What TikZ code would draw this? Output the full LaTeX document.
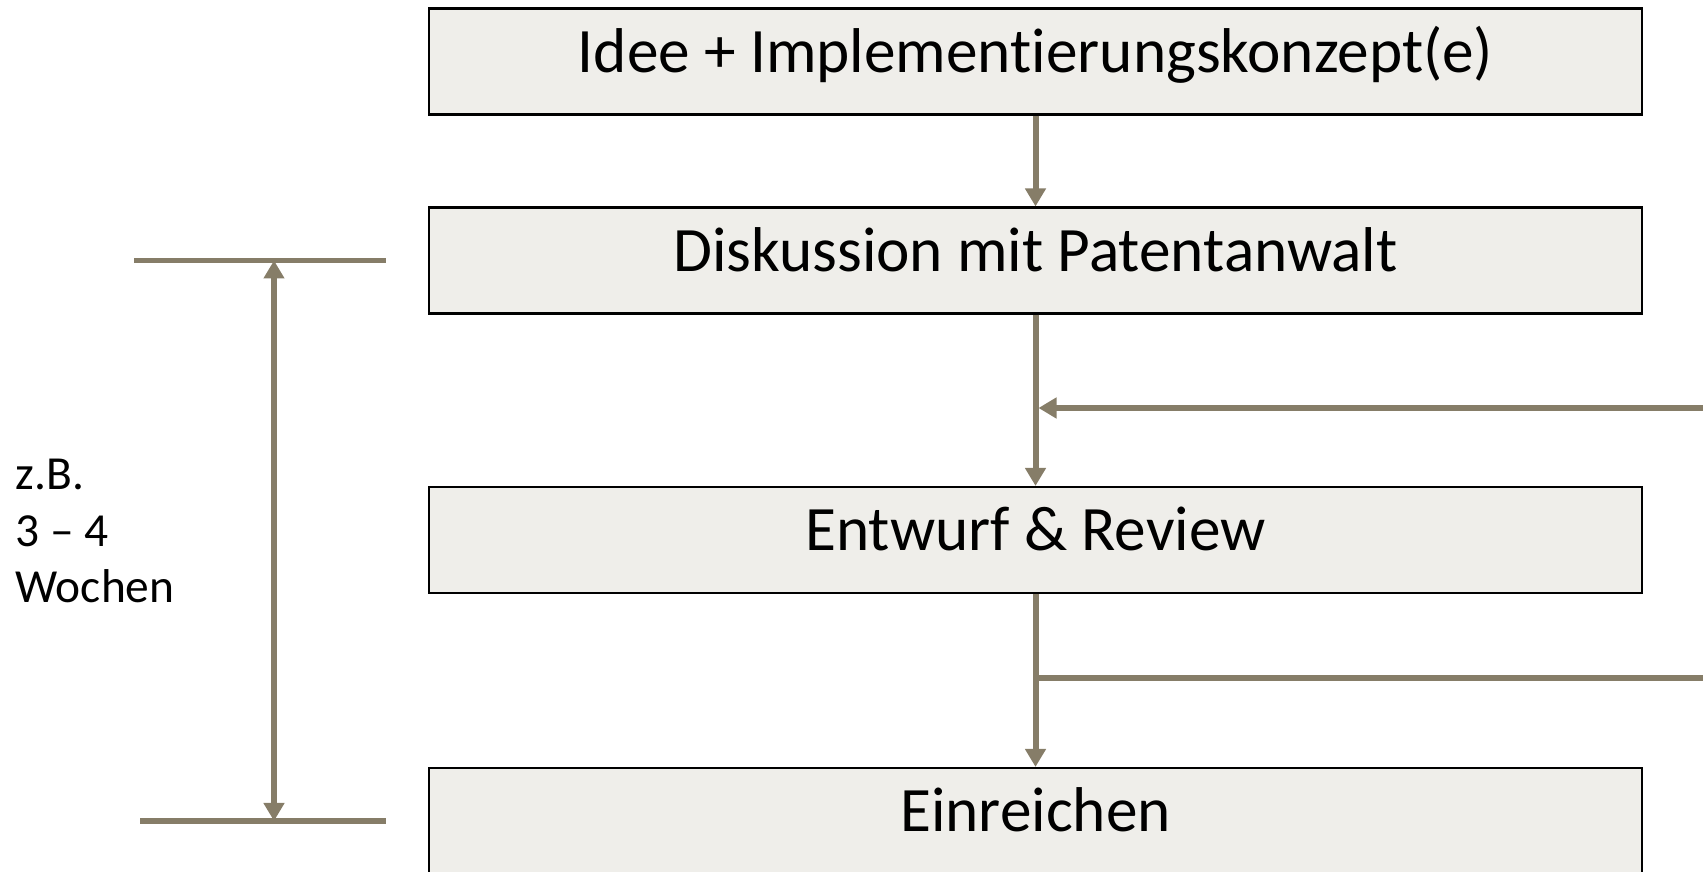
\documentclass[tikz,border=0pt]{standalone}
\usepackage{fontspec}
\setmainfont{Carlito}[Ligatures={NoCommon}]
\usepackage{tikz}
\usetikzlibrary{arrows.meta}
\definecolor{linec}{RGB}{134,125,104}
\definecolor{boxfill}{RGB}{239,238,234}

\begin{document}
\begin{tikzpicture}
[stage/.style={draw=black,line width=0.6pt,fill=boxfill,minimum width=12.13cm,minimum height=1.06cm,inner sep=0pt,text height=0.41cm,text depth=0.19cm,font=\fontsize{18}{21}\selectfont},
flow/.style={draw=linec,line width=1.7pt,-{Triangle[length=0.18cm,width=0.2cm]}},
bar/.style={draw=linec,line width=1.7pt}]
\clip (0,0) rectangle (17.03,8.72);

\node[stage] (idee) at (10.355,8.105) {Idee + Implementierungskonzept(e)};
\node[stage] (disk) at (10.355,6.115) {Diskussion mit Patentanwalt};
\node[stage] (entw) at (10.355,3.32) {Entwurf \& Review};
\node[stage] (einr) at (10.355,0.51) {Einreichen};

\node[anchor=west,align=left,inner sep=0pt,font=\fontsize{13.5}{16}\selectfont] (dauer) at (0.15,3.41) {z.B.\\3 – 4\\Wochen};

\coordinate (fbin) at (10.385,4.64);
\coordinate (fbout) at (17.1,4.64);
\coordinate (rein) at (10.355,1.94);
\coordinate (raus) at (17.1,1.94);

\coordinate (t1) at (1.34,6.115);
\coordinate (t2) at (3.86,6.115);
\coordinate (tm) at (2.74,6.115);
\coordinate (b1) at (1.40,0.51);
\coordinate (b2) at (3.86,0.51);
\coordinate (bm) at (2.74,0.51);

\draw [flow] (idee) -- (disk);
\draw [flow] (disk) -- (entw);
\draw [flow] (entw) -- (einr);
\draw [flow] (fbout) -- (fbin);
\draw [bar] (rein) -- (raus);

\draw [bar] (t1) -- (t2);
\draw [bar] (b1) -- (b2);
\draw [draw=linec,line width=1.7pt,{Triangle[length=0.18cm,width=0.2cm]}-{Triangle[length=0.18cm,width=0.2cm]}] (tm) -- (bm);
\end{tikzpicture}
\end{document}
